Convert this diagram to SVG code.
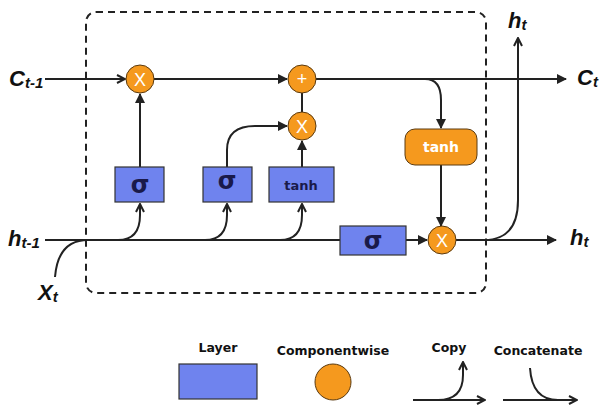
<svg xmlns="http://www.w3.org/2000/svg" width="601" height="411" viewBox="0 0 601 411">
<style>
.ln{fill:none;stroke:#222;stroke-width:2}
.layer{fill:#6F83EE;stroke:#333;stroke-width:1.2}
.op{fill:#F5991E;stroke:#5a3a10;stroke-width:1}
.sym{font-family:"Liberation Sans",Arial,sans-serif;fill:#fff;font-size:18px;text-anchor:middle}
.sig{font-family:"DejaVu Sans",sans-serif;font-weight:bold;fill:#1a1a4a;font-size:24px;text-anchor:middle}
.tanh{font-family:"DejaVu Sans",sans-serif;font-weight:bold;fill:#1a1a4a;font-size:13px;text-anchor:middle}
.lbl{font-family:"Liberation Sans",Arial,sans-serif;font-weight:bold;font-style:italic;fill:#111;font-size:22px}
.sub{font-size:15px}
.leg{font-family:"DejaVu Sans",sans-serif;font-weight:bold;fill:#111;font-size:12.5px;text-anchor:middle}
</style>
<defs>
<marker id="ah" viewBox="0 0 10 10" refX="9" refY="5" markerWidth="5" markerHeight="5" orient="auto" markerUnits="strokeWidth">
<path d="M0,0 L10,5 L0,10 z" fill="#222"/>
</marker>
<marker id="oa" viewBox="0 0 10 10" refX="9" refY="5" markerWidth="5" markerHeight="5" orient="auto" markerUnits="strokeWidth">
<path d="M1,1 L9,5 L1,9" fill="none" stroke="#222" stroke-width="2"/>
</marker>
</defs>
<rect x="86" y="12" width="400" height="281" rx="10" fill="none" stroke="#222" stroke-width="2" stroke-dasharray="7,5"/>
<g id="connectors">
<path class="ln" d="M45,79 L125,79" marker-end="url(#oa)"/>
<path class="ln" d="M153,79 L287,79" marker-end="url(#ah)"/>
<path class="ln" d="M316,79 L566,79" marker-end="url(#ah)"/>
<path class="ln" d="M425,79 Q441,79 441,100 L441,128" marker-end="url(#ah)"/>
<path class="ln" d="M441,165 L441,226" marker-end="url(#ah)"/>
<path class="ln" d="M302,93 L302,112"/>
<path class="ln" d="M140,167 L140,94" marker-end="url(#ah)"/>
<path class="ln" d="M227,167 L227,150 Q227,126 255,126 L287,126" marker-end="url(#ah)"/>
<path class="ln" d="M302,167 L302,141" marker-end="url(#ah)"/>
<path class="ln" d="M45,240 L340,240"/>
<path class="ln" d="M55,277 Q58,240 88,240"/>
<path class="ln" d="M118,240 Q140,240 140,215 L140,204" marker-end="url(#oa)"/>
<path class="ln" d="M205,240 Q227,240 227,215 L227,204" marker-end="url(#oa)"/>
<path class="ln" d="M280,240 Q302,240 302,215 L302,204" marker-end="url(#oa)"/>
<path class="ln" d="M406,240 L427,240" marker-end="url(#ah)"/>
<path class="ln" d="M456,240 L556,240" marker-end="url(#ah)"/>
<path class="ln" d="M484,240 Q518,240 518,200 L518,38" marker-end="url(#oa)"/>
</g>
<g id="c_prev"><text class="lbl" x="9" y="86">C<tspan class="sub" dy="2">t-1</tspan></text></g>
<g id="h_prev"><text class="lbl" x="8" y="246">h<tspan class="sub" dy="2">t-1</tspan></text></g>
<g id="x_t"><text class="lbl" x="38" y="300">X<tspan class="sub" dy="2">t</tspan></text></g>
<g id="c_t"><text class="lbl" x="577" y="85">C<tspan class="sub" dy="2">t</tspan></text></g>
<g id="h_t_out"><text class="lbl" x="570" y="245">h<tspan class="sub" dy="2">t</tspan></text></g>
<g id="h_t_top"><text class="lbl" x="508" y="28">h<tspan class="sub" dy="2">t</tspan></text></g>
<g id="forget_mul"><circle class="op" cx="140" cy="79" r="14"/><text class="sym" x="140" y="85.5">X</text></g>
<g id="add"><circle class="op" cx="302" cy="79" r="14"/><text class="sym" x="302" y="85">+</text></g>
<g id="input_mul"><circle class="op" cx="302" cy="126" r="14"/><text class="sym" x="302" y="132.5">X</text></g>
<g id="output_mul"><circle class="op" cx="442" cy="240" r="14"/><text class="sym" x="442" y="246.5">X</text></g>
<g id="forget_gate"><rect class="layer" x="115" y="167" width="49" height="35"/><text class="sig" x="140" y="193">σ</text></g>
<g id="input_gate"><rect class="layer" x="203" y="167" width="49" height="35"/><text class="sig" x="227" y="189">σ</text></g>
<g id="candidate"><rect class="layer" x="269" y="167" width="65" height="35"/><text class="tanh" x="301" y="190">tanh</text></g>
<g id="output_gate"><rect class="layer" x="340" y="226" width="66" height="29"/><text class="sig" x="373" y="249">σ</text></g>
<g id="cell_tanh"><rect x="405" y="129" width="72" height="36" rx="10" fill="#F5991E" stroke="#5a3a10" stroke-width="1"/><text class="tanh" x="441" y="152" style="fill:#fff;font-size:14px">tanh</text></g>
<g id="legend_layer"><text class="leg" x="218" y="352">Layer</text><rect class="layer" x="179" y="364" width="78" height="35"/></g>
<g id="legend_op"><text class="leg" x="333" y="355">Componentwise</text><circle class="op" cx="333" cy="382" r="18"/></g>
<g id="legend_copy"><text class="leg" x="449" y="352">Copy</text><path class="ln" d="M413,400 L485,400" marker-end="url(#oa)"/><path class="ln" d="M438,400 Q463,400 463,375 L463,362" marker-end="url(#oa)"/></g>
<g id="legend_concat"><text class="leg" x="538" y="355">Concatenate</text><path class="ln" d="M503,400 L577,400" marker-end="url(#oa)"/><path class="ln" d="M530,368 Q532,400 558,400"/></g>
</svg>
